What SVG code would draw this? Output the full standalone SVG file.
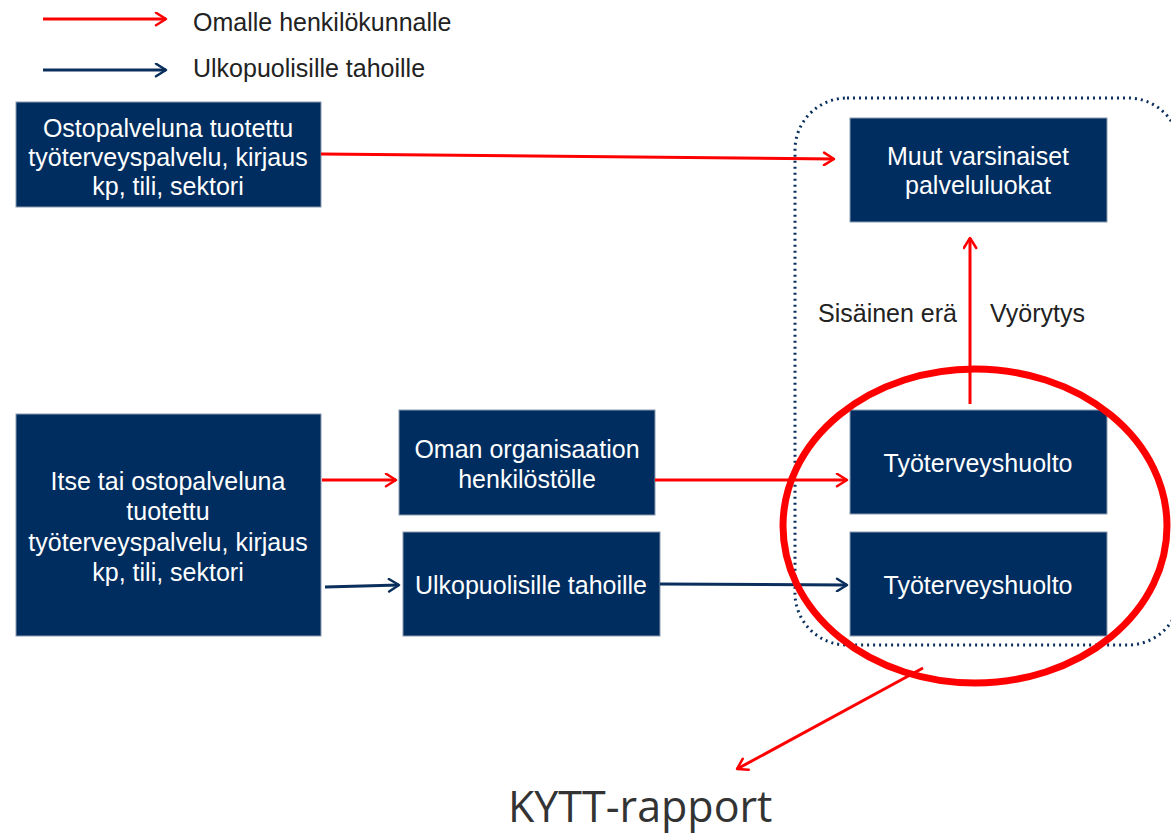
<svg xmlns="http://www.w3.org/2000/svg" width="1171" height="834" viewBox="0 0 1171 834">
<style>
.box{fill:#002d5f;stroke:#8a9bb0;stroke-width:1}
.bt{font-family:"Liberation Sans",Arial,sans-serif;font-size:25px;fill:#fff;text-anchor:middle}
.lt{font-family:"Liberation Sans",Arial,sans-serif;font-size:25px;fill:#222}
.red{stroke:#ff0000;stroke-width:3;fill:none}
.blue{stroke:#0a2f5c;stroke-width:3;fill:none}
</style>
<defs>
<marker id="ar" viewBox="0 0 12 12" refX="10" refY="6" markerWidth="5" markerHeight="5" orient="auto" markerUnits="strokeWidth">
<polyline points="2,1 10,6 2,11" fill="none" stroke="#ff0000" stroke-width="2" stroke-linecap="round" stroke-linejoin="round"/>
</marker>
<marker id="ab" viewBox="0 0 12 12" refX="10" refY="6" markerWidth="5" markerHeight="5" orient="auto" markerUnits="strokeWidth">
<polyline points="2,1 10,6 2,11" fill="none" stroke="#0a2f5c" stroke-width="2" stroke-linecap="round" stroke-linejoin="round"/>
</marker>
</defs>
<rect width="1171" height="834" fill="#fff"/>
<g id="legend">
<line class="red" x1="43" y1="19" x2="166" y2="19" marker-end="url(#ar)"/>
<text class="lt" x="193" y="31">Omalle henkilökunnalle</text>
<line class="blue" x1="43" y1="70" x2="166" y2="70" marker-end="url(#ab)"/>
<text class="lt" x="193" y="77">Ulkopuolisille tahoille</text>
</g>
<g id="group-frame">
<rect x="795" y="98" width="385" height="547" rx="52" ry="52" fill="none" stroke="#0a2f5c" stroke-width="3" stroke-dasharray="2 4"/>
</g>
<g id="n-osto">
<rect class="box" x="16" y="102" width="305" height="105"/>
<text class="bt" x="168" y="137">Ostopalveluna tuotettu</text>
<text class="bt" x="168" y="166">työterveyspalvelu, kirjaus</text>
<text class="bt" x="168" y="195">kp, tili, sektori</text>
</g>
<g id="n-muut">
<rect class="box" x="850" y="118" width="257" height="104"/>
<text class="bt" x="978" y="165">Muut varsinaiset</text>
<text class="bt" x="978" y="194">palveluluokat</text>
</g>
<g id="n-itse">
<rect class="box" x="16" y="414" width="305" height="222"/>
<text class="bt" x="168" y="490">Itse tai ostopalveluna</text>
<text class="bt" x="168" y="520">tuotettu</text>
<text class="bt" x="168" y="551">työterveyspalvelu, kirjaus</text>
<text class="bt" x="168" y="581">kp, tili, sektori</text>
</g>
<g id="n-oman">
<rect class="box" x="399" y="410" width="256" height="105"/>
<text class="bt" x="527" y="458">Oman organisaation</text>
<text class="bt" x="527" y="488">henkilöstölle</text>
</g>
<g id="n-ulko">
<rect class="box" x="403" y="532" width="257" height="104"/>
<text class="bt" x="531" y="594">Ulkopuolisille tahoille</text>
</g>
<g id="n-tyo1">
<rect class="box" x="850" y="410" width="257" height="104"/>
<text class="bt" x="978" y="472">Työterveyshuolto</text>
</g>
<g id="n-tyo2">
<rect class="box" x="850" y="532" width="257" height="104"/>
<text class="bt" x="978" y="594">Työterveyshuolto</text>
</g>
<g id="connectors">
<line class="red" x1="321" y1="154" x2="834" y2="159" marker-end="url(#ar)"/>
<line class="red" x1="322" y1="480" x2="396" y2="480" marker-end="url(#ar)"/>
<line class="red" x1="655" y1="480" x2="847" y2="480" marker-end="url(#ar)"/>
<line class="blue" x1="325" y1="587" x2="399" y2="585" marker-end="url(#ab)"/>
<line class="blue" x1="660" y1="584" x2="847" y2="585" marker-end="url(#ab)"/>
<line class="red" x1="970" y1="404" x2="970" y2="238" marker-end="url(#ar)"/>
<line class="red" x1="923" y1="668" x2="737" y2="769" marker-end="url(#ar)"/>
<text class="lt" x="818" y="322">Sisäinen erä</text>
<text class="lt" x="990" y="322">Vyörytys</text>
</g>
<g id="highlight">
<ellipse cx="975" cy="526" rx="192" ry="157" fill="none" stroke="#ff0000" stroke-width="7"/>
</g>
<text x="508" y="822" font-family="'Open Sans',sans-serif" font-size="43" fill="#333">KYTT-rapport</text>
</svg>
